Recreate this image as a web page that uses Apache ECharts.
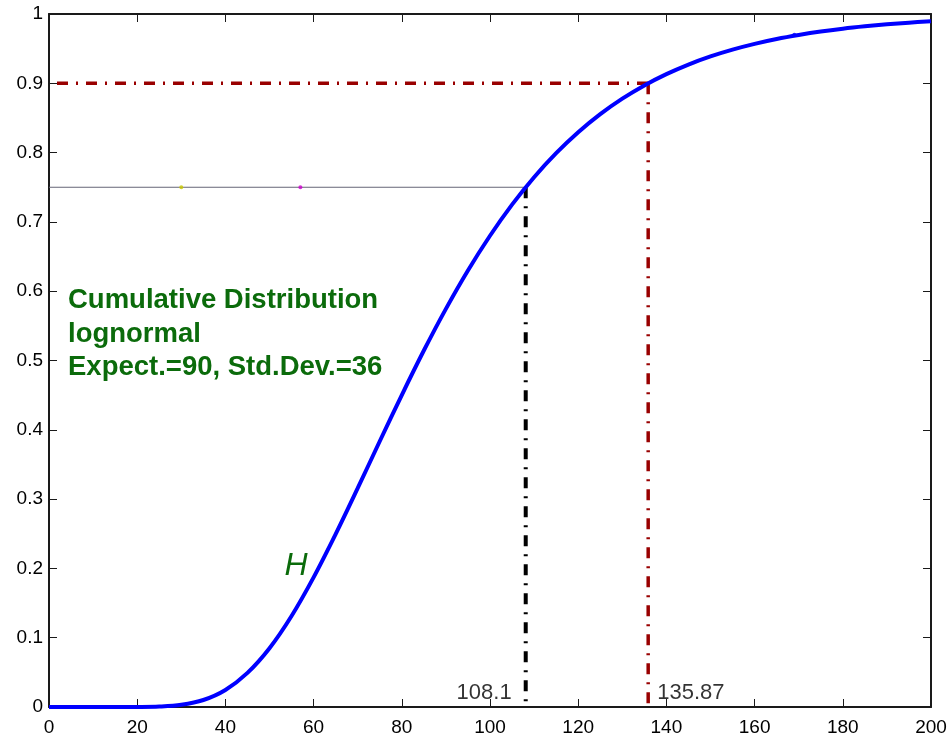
<!DOCTYPE html>
<html>
<head>
<meta charset="utf-8">
<script src="https://cdn.jsdelivr.net/npm/echarts@6/dist/echarts.min.js"></script>
<style>
  html, body { margin: 0; padding: 0; background: #fff; }
  #chart { width: 950px; height: 737px; }
</style>
</head>
<body>
<div id="chart"></div>
<script>
// Cumulative distribution H(x), lognormal with expectation 90 and std. dev. 36
const xValues = [0, 5, 10, 15, 20, 25, 30, 35, 40, 45, 50, 55, 60, 65, 70, 75, 80, 85, 90, 95, 100,
  105, 110, 115, 120, 125, 130, 135, 140, 145, 150, 155, 160, 165, 170, 175, 180, 185, 190, 195, 200];
const cdfValues = [0, 0, 0, 0, 0.0001, 0.0007, 0.0032, 0.0101, 0.0246, 0.0492, 0.0848, 0.1313, 0.187, 0.2494,
  0.3157, 0.3835, 0.4502, 0.5144, 0.5745, 0.6299, 0.68, 0.7249, 0.7645, 0.7992, 0.8294, 0.8555, 0.8779,
  0.897, 0.9133, 0.9271, 0.9388, 0.9486, 0.9569, 0.9639, 0.9697, 0.9747, 0.9788, 0.9822, 0.9851, 0.9875, 0.9895];

// Quantile levels and the x values where H reaches them
const levels = [0.75, 0.9];
const quantiles = [108.1, 135.87];

// Axis ticks
const xTicks = [0, 20, 40, 60, 80, 100, 120, 140, 160, 180, 200];
const yTicks = [0, 0.1, 0.2, 0.3, 0.4, 0.5, 0.6, 0.7, 0.8, 0.9, 1];

// Small stray marks along the 0.75 line and on the curve
const markX = [30, 57, 169];
const markY = [0.75, 0.75, 0.97];
const markColors = ['#c8c800', '#cc00cc', '#0000ff'];

const infoLines = ['Cumulative Distribution', 'lognormal', 'Expect.=90, Std.Dev.=36'];
const curveName = 'H';

const FONT = "'Liberation Sans', Arial, Helvetica, sans-serif";
const GREEN = '#0b6b0b';
const DARKRED = '#990000';
const DASHDOT = [11, 8, 2, 8];

const chart = echarts.init(document.getElementById('chart'), null, { renderer: 'canvas' });

const curveData = xValues.map((x, i) => [x, cdfValues[i]]);

function axisCommon(showLabel) {
  return {
    type: 'value',
    axisLine: { show: true, onZero: false, lineStyle: { color: '#1a1a1a', width: 2 } },
    axisTick: { show: true, inside: true, length: 8, lineStyle: { color: '#1a1a1a', width: 1 } },
    splitLine: { show: false },
    axisLabel: showLabel
      ? { show: true, fontFamily: FONT, fontSize: 19, color: '#000' }
      : { show: false }
  };
}

const xStep = xTicks[1] - xTicks[0];
const yStep = yTicks[1] - yTicks[0];

const xAxes = [
  Object.assign(axisCommon(true), { position: 'bottom', min: xTicks[0], max: xTicks[xTicks.length - 1], interval: xStep }),
  Object.assign(axisCommon(false), { position: 'top', min: xTicks[0], max: xTicks[xTicks.length - 1], interval: xStep })
];
xAxes[0].axisLabel.margin = 11;

const yAxes = [
  Object.assign(axisCommon(true), { position: 'left', min: yTicks[0], max: yTicks[yTicks.length - 1], interval: yStep }),
  Object.assign(axisCommon(false), { position: 'right', min: yTicks[0], max: yTicks[yTicks.length - 1], interval: yStep })
];
yAxes[0].axisLabel.margin = 6;
yAxes[0].axisLabel.formatter = v => String(Math.round(v * 10) / 10);

const option = {
  animation: false,
  backgroundColor: '#ffffff',
  grid: { left: 49, right: 19, top: 14, bottom: 28, containLabel: false },
  xAxis: xAxes,
  yAxis: yAxes,
  series: [
    // thin guide at the 0.75 level
    {
      type: 'line', silent: true, showSymbol: false, z: 2,
      data: [[0, levels[0]], [quantiles[0], levels[0]]],
      lineStyle: { color: '#666677', width: 1 }
    },
    // dash-dot guide at the 0.9 level
    {
      type: 'line', silent: true, showSymbol: false, z: 2,
      data: [[0, levels[1]], [quantiles[1], levels[1]]],
      lineStyle: { color: DARKRED, width: 3.5, type: DASHDOT, dashOffset: 21 }
    },
    // vertical drop at the 0.9 quantile
    {
      type: 'line', silent: true, showSymbol: false, z: 2,
      data: [[quantiles[1], levels[1]], [quantiles[1], 0]],
      lineStyle: { color: DARKRED, width: 3.5, type: DASHDOT }
    },
    // vertical drop at the 0.75 quantile
    {
      type: 'line', silent: true, showSymbol: false, z: 2,
      data: [[quantiles[0], levels[0]], [quantiles[0], 0]],
      lineStyle: { color: '#000000', width: 4, type: DASHDOT }
    },
    // the distribution curve
    {
      type: 'line', name: curveName, silent: true, showSymbol: false, z: 3,
      smooth: 0.35,
      data: curveData,
      lineStyle: { color: '#0000ff', width: 4 }
    },
    // stray marks
    {
      type: 'scatter', silent: true, z: 4, symbolSize: 4,
      data: markX.map((x, i) => ({ value: [x, markY[i]], itemStyle: { color: markColors[i] } }))
    },
    // quantile value labels
    {
      type: 'scatter', silent: true, z: 5, symbolSize: 0.1,
      itemStyle: { color: 'transparent' },
      data: quantiles.map((q, i) => ({
        value: [q, 0],
        label: {
          show: true,
          position: i === 0 ? 'left' : 'right',
          distance: i === 0 ? 14 : 9,
          offset: [0, -14],
          formatter: p => String(p.value[0]),
          fontFamily: FONT, fontSize: 22, color: '#000'
        }
      }))
    }
  ],
  graphic: [
    {
      type: 'text', left: 68, top: 284, z: 10, silent: true,
      style: {
        text: infoLines.join('\n'),
        fontFamily: FONT, fontSize: 27.5, fontWeight: 'bold',
        lineHeight: 33.5, fill: GREEN
      }
    },
    {
      type: 'text', x: 296, y: 566, z: 10, silent: true,
      style: {
        text: curveName,
        fontFamily: FONT, fontSize: 32, fontStyle: 'italic',
        fill: GREEN, align: 'center', verticalAlign: 'middle'
      }
    }
  ]
};

chart.setOption(option);
</script>
</body>
</html>
